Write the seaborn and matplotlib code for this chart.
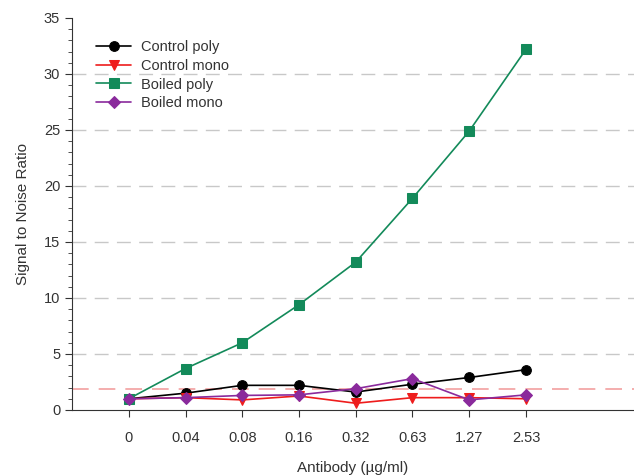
import numpy as np
import matplotlib
matplotlib.use("Agg")
import matplotlib.pyplot as plt
import seaborn as sns
from matplotlib.ticker import MultipleLocator

# Antibody concentrations (categorical x axis)
antibody = ["0", "0.04", "0.08", "0.16", "0.32", "0.63", "1.27", "2.53"]

# Signal to noise ratio
control_poly = [1.0, 1.5, 2.2, 2.2, 1.6, 2.3, 2.9, 3.6]
control_mono = [1.0, 1.1, 0.9, 1.25, 0.6, 1.1, 1.1, 1.0]
boiled_poly = [1.0, 3.7, 6.0, 9.4, 13.2, 18.9, 24.9, 32.2]
boiled_mono = [1.0, 1.1, 1.3, 1.35, 1.9, 2.8, 0.9, 1.35]
threshold = 1.9

sns.set_style("ticks")
plt.rcParams["font.family"] = ["Liberation Sans", "DejaVu Sans"]

fig = plt.figure(figsize=(6.34, 4.76), dpi=100)
ax = fig.add_axes([0.1136, 0.1387, 0.886, 0.8235])

pos = np.arange(len(antibody))

# dashed horizontal guides
for yv in range(5, 35, 5):
    ax.axhline(yv, color="#c8c8c8", lw=1.0, dashes=(10, 6), zorder=0)
ax.axhline(threshold, color="#f2a0a0", lw=1.2, dashes=(10, 6), zorder=0)

series = [
    ("Control poly", control_poly, "black", "o"),
    ("Control mono", control_mono, "#ee1c1c", "v"),
    ("Boiled poly", boiled_poly, "#138a5a", "s"),
    ("Boiled mono", boiled_mono, "#8a2a9c", "D"),
]
for name, vals, col, mk in series:
    sns.lineplot(x=pos, y=vals, ax=ax, color=col, marker=mk, markersize=7 if mk != "D" else 6.5,
                 markeredgecolor=col, linewidth=1.2, label=name)

ax.set_xlim(-1, 8.9)
ax.set_ylim(0, 35)
ax.set_xticks(pos)
ax.set_xticklabels(antibody)
ax.yaxis.set_major_locator(MultipleLocator(5))
ax.yaxis.set_minor_locator(MultipleLocator(1))
ax.tick_params(axis="both", which="major", labelsize=10.5, colors="#333333", length=5)
ax.tick_params(axis="y", which="minor", length=3, color="#333333")
ax.tick_params(axis="x", pad=10)

for side in ["top", "right"]:
    ax.spines[side].set_visible(False)
for side in ["left", "bottom"]:
    ax.spines[side].set_color("#333333")

ax.set_xlabel("Antibody (\u00b5g/ml)", fontsize=11, color="#333333", labelpad=12)
ax.set_ylabel("Signal to Noise Ratio", fontsize=11, color="#333333", labelpad=10)

leg = ax.legend(loc="upper left", bbox_to_anchor=(0.025, 0.97), frameon=False,
                fontsize=10.5, handlelength=2.4, handletextpad=0.7,
                labelspacing=0.33, borderaxespad=0.3)
for t in leg.get_texts():
    t.set_color("#333333")

fig.savefig("out.png", dpi=100)
